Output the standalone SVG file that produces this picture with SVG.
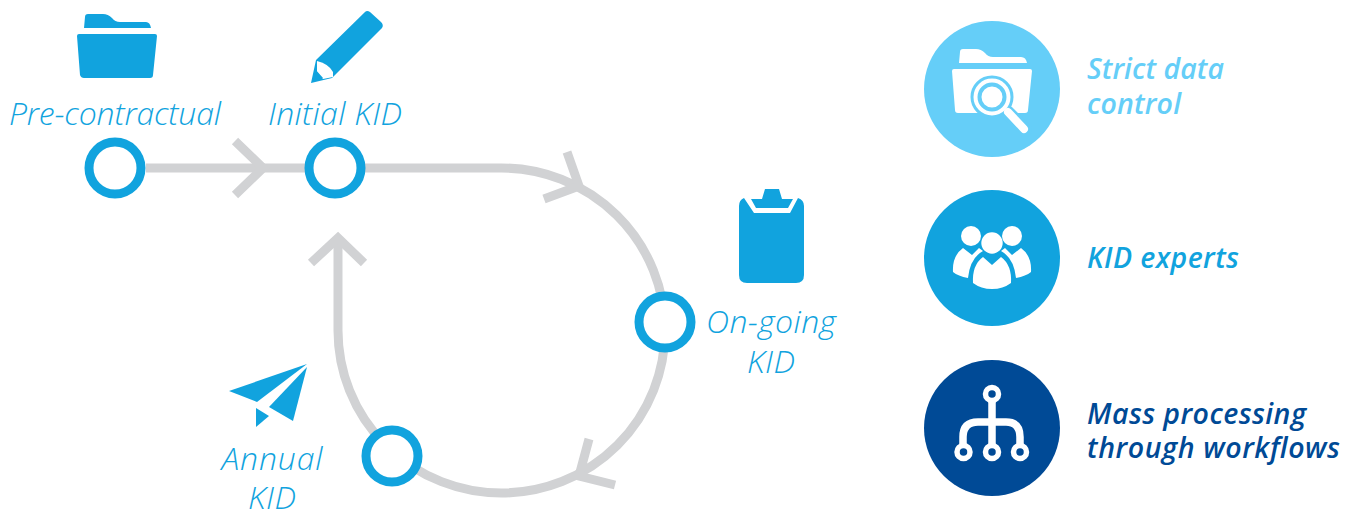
<svg xmlns="http://www.w3.org/2000/svg" width="1358" height="516" viewBox="0 0 1358 516">
<style>
.t{font-family:"Open Sans","Noto Sans",sans-serif;font-style:italic;font-size:32px;font-weight:300;fill:#11a3de;text-anchor:middle}
.r{font-family:"Open Sans","Noto Sans",sans-serif;font-style:italic;font-size:28.500px;font-weight:600}
.line{fill:none;stroke:#d1d2d4;stroke-width:9}
.dot{fill:#fff;stroke:#11a3de;stroke-width:9}
.b{fill:#11a3de}
.w{fill:#fff}
</style>
<g id="connectors">
<path class="line" d="M146 168H335"/>
<path class="line" d="M235 141L263 168L235 195"/>
<path class="line" d="M365 168H501A163.500 162.500 0 1 1 338 330.500V240"/>
<path class="line" d="M567 152L579 186L544 199"/>
<path class="line" d="M589 439L579 476L615 485"/>
<path class="line" d="M311 263L338 238L364 263"/>
</g>
<g id="pre-contractual">
<path class="b" d="M84 28L85 17Q85 14 88 14H103Q108 14 112 18Q115 22 120 22H146Q150 22 151 28Z"/>
<path class="b" d="M79 34H155Q157 34 157 36L153 75Q153 78 150 78H84Q81 78 80 75L77 36Q77 34 79 34Z"/>
<text class="t" x="115" y="125" textLength="212">Pre-contractual</text>
<circle class="dot" cx="115" cy="168" r="26"/>
</g>
<g id="initial-kid">
<path class="b" d="M311 83L316 60L365 12Q367 10 370 12L381 22Q384 25 382 28L332 78Z"/>
<path class="w" d="M317 61Q329 64 333 72L333 77L323 79L317 72Z"/>
<path class="b" d="M315 69L323 78L320 79L316 72Z"/>
<text class="t" x="335" y="125" textLength="134">Initial KID</text>
<circle class="dot" cx="335" cy="168" r="26"/>
</g>
<g id="on-going-kid">
<path class="b" d="M744 198Q739 200 739 206V275Q739 283 747 283H796Q804 283 804 275V206Q804 200 798 198L790 213H754Z"/>
<path class="b" d="M751 199H762L765 189H779L782 199H793L788 208H756Z"/>
<circle class="dot" cx="665" cy="322" r="26"/>
<text class="t" x="771" y="333" textLength="130">On-going</text>
<text class="t" x="771" y="373" textLength="48">KID</text>
</g>
<g id="annual-kid">
<path class="b" d="M229 391L307 364L257 402Z"/>
<path class="b" d="M307 367L293 421L269 407Z"/>
<path class="b" d="M256 408L269 416L256 427Z"/>
<circle class="dot" cx="392" cy="456" r="26"/>
<text class="t" x="272" y="470" textLength="101">Annual</text>
<text class="t" x="272" y="509" textLength="48">KID</text>
</g>
<g id="strict-data-control">
<circle cx="992" cy="89" r="68" fill="#65cef8"/>
<path class="w" d="M959 63L960 52Q960 49 963 49H976Q981 49 985 53Q988 57 993 57H1021Q1026 57 1027 63Z"/>
<path class="w" d="M954 69H1030Q1032 69 1032 71L1028 110Q1028 113 1025 113H958Q955 113 955 110L952 71Q952 69 954 69Z"/>
<path d="M1007 112L1025 130" stroke="#65cef8" stroke-width="14" stroke-linecap="round"/>
<circle cx="992" cy="97" r="20" fill="#fff" stroke="#65cef8" stroke-width="3"/>
<circle cx="992" cy="97" r="12.500" fill="#fff" stroke="#65cef8" stroke-width="4"/>
<path d="M1008 112L1024 129" stroke="#fff" stroke-width="8" stroke-linecap="round"/>
<text class="r" fill="#65cef8"><tspan x="1087" y="79" textLength="137">Strict data</tspan><tspan x="1087" y="114" textLength="94">control</tspan></text>
</g>
<g id="kid-experts">
<circle cx="992" cy="258" r="68" fill="#11a3de"/>
<circle class="w" cx="971" cy="236" r="10"/>
<circle class="w" cx="1012" cy="236" r="10"/>
<path class="w" d="M963 248L972 255L979 248L983 251Q970 258 968 278Q958 276 953 272Q952 256 963 248Z"/>
<path class="w" d="M1021 248L1012 255L1005 248L1001 251Q1014 258 1016 278Q1026 276 1031 272Q1032 256 1021 248Z"/>
<circle class="w" cx="992" cy="243" r="10.700"/>
<path class="w" d="M983 257L992 265L1001 257Q1012 265 1011 283Q1003 289 992 289Q981 289 973 283Q972 265 983 257Z"/>
<text class="r" x="1087" y="268" fill="#11a3de" textLength="152">KID experts</text>
</g>
<g id="mass-processing">
<circle cx="992" cy="428" r="68" fill="#004a96"/>
<path fill="none" stroke="#fff" stroke-width="7.500" d="M992 402V444M963 444V437Q963 422 978 422H1006Q1020 422 1020 437V444"/>
<g fill="#004a96" stroke="#fff" stroke-width="5.500">
<circle cx="992" cy="394" r="6.500"/>
<circle cx="963.500" cy="452" r="6.500"/>
<circle cx="992" cy="452" r="6.500"/>
<circle cx="1020" cy="452" r="6.500"/>
</g>
<text class="r" fill="#004a96"><tspan x="1087" y="424" textLength="219">Mass processing</tspan><tspan x="1087" y="458" textLength="253">through workflows</tspan></text>
</g>
</svg>
